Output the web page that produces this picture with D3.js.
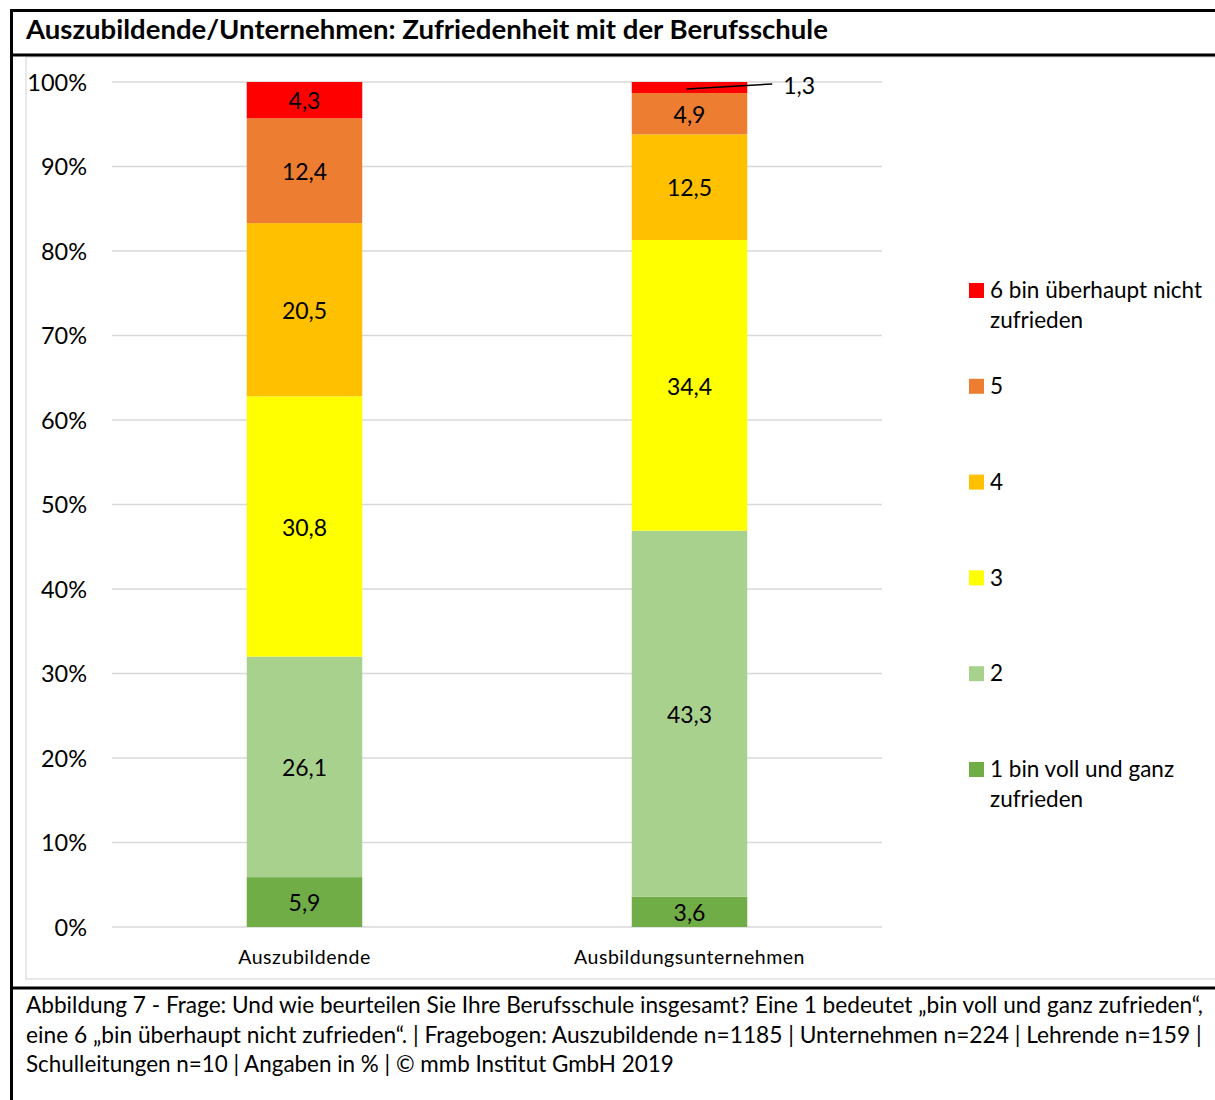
<!DOCTYPE html>
<html><head><meta charset="utf-8">
<script src="https://cdn.jsdelivr.net/npm/d3@7"></script>
<style>
html,body{margin:0;padding:0;background:#fff;}
svg{display:block;font-family:Lato,"Noto Sans",sans-serif;}
</style></head>
<body>
<svg id="chart" width="1215" height="1100"></svg>
<script>
const categories = ["Auszubildende", "Ausbildungsunternehmen"];
const seriesNames = ["1 bin voll und ganz zufrieden", "2", "3", "4", "5", "6 bin überhaupt nicht zufrieden"];
const seriesColors = ["#70AD47", "#A9D18E", "#FFFF00", "#FFC000", "#ED7D31", "#FF0000"];
const azubiValues = [5.9, 26.1, 30.8, 20.5, 12.4, 4.3];
const unternehmenValues = [3.6, 43.3, 34.4, 12.5, 4.9, 1.3];
const yTicks = [0, 10, 20, 30, 40, 50, 60, 70, 80, 90, 100];
const yTickLabels = ["0%", "10%", "20%", "30%", "40%", "50%", "60%", "70%", "80%", "90%", "100%"];
const titleText = "Auszubildende/Unternehmen: Zufriedenheit mit der Berufsschule";
const captionLines = [
  "Abbildung 7 - Frage: Und wie beurteilen Sie Ihre Berufsschule insgesamt? Eine 1 bedeutet \u201Ebin voll und ganz zufrieden\u201C,",
  "eine 6 \u201Ebin \u00FCberhaupt nicht zufrieden\u201C. | Fragebogen: Auszubildende n=1185 | Unternehmen n=224 | Lehrende n=159 |",
  "Schulleitungen n=10 | Angaben in % | \u00A9 mmb Institut GmbH 2019"
];

const svg = d3.select("#chart");

function fitWidth(sel, target) {
  const node = sel.node();
  const w = node.getComputedTextLength();
  const fs = parseFloat(sel.attr("font-size"));
  sel.attr("font-size", (fs * target / w).toFixed(2));
}

// frame
svg.append("rect").attr("x", 26).attr("y", 57).attr("width", 1200).attr("height", 922)
  .attr("fill", "#fff").attr("stroke", "#d9d9d9").attr("stroke-width", 1.2);
svg.append("line").attr("x1", 11).attr("x2", 1215).attr("y1", 10.5).attr("y2", 10.5).attr("stroke", "#000").attr("stroke-width", 3);
svg.append("line").attr("x1", 11).attr("x2", 1215).attr("y1", 55).attr("y2", 55).attr("stroke", "#000").attr("stroke-width", 3);
svg.append("line").attr("x1", 11).attr("x2", 1215).attr("y1", 988).attr("y2", 988).attr("stroke", "#000").attr("stroke-width", 3);
svg.append("line").attr("x1", 11.5).attr("x2", 11.5).attr("y1", 9).attr("y2", 1100).attr("stroke", "#000").attr("stroke-width", 3);

// title
const title = svg.append("text").attr("x", 26).attr("y", 39).attr("font-size", 24).attr("font-weight", "bold")
  .attr("fill", "#000").text(titleText);
fitWidth(title, 802);

// scales
const x = d3.scaleBand().domain(categories).range([112, 882]).paddingInner(0.7).paddingOuter(0.35);
const y = d3.scaleLinear().domain([0, 100]).range([927, 82]);

// gridlines
svg.append("g").selectAll("line").data(yTicks).join("line")
  .attr("x1", 112).attr("x2", 882)
  .attr("y1", d => y(d)).attr("y2", d => y(d))
  .attr("stroke", "#d9d9d9").attr("stroke-width", 1.3);

// y axis labels
const yAxis = d3.axisLeft(y).tickValues(yTicks).tickFormat((d, i) => yTickLabels[i]).tickSize(0).tickPadding(0);
const yg = svg.append("g").attr("transform", "translate(87,0)").call(yAxis);
yg.select(".domain").remove();
yg.selectAll("text").attr("font-size", 23.5).attr("font-family", "Lato, 'Noto Sans', sans-serif").attr("fill", "#000").attr("dy", "0.34em");

// x axis labels
const xAxis = d3.axisBottom(x).tickSize(0).tickPadding(0);
const xg = svg.append("g").attr("transform", "translate(0,950)").call(xAxis);
xg.select(".domain").remove();
xg.selectAll("text").attr("font-size", 19.5).attr("font-family", "Lato, 'Noto Sans', sans-serif").attr("fill", "#000").attr("dy", "0.7em").attr("letter-spacing", 0.55);

// stack
const rows = categories.map((c, i) => {
  const o = { cat: c };
  const vals = i === 0 ? azubiValues : unternehmenValues;
  seriesNames.forEach((s, j) => o[s] = vals[j]);
  return o;
});
const stack = d3.stack().keys(seriesNames)(rows);

const segs = svg.append("g");
stack.forEach((layer, j) => {
  segs.selectAll(null).data(layer).join("rect")
    .attr("x", d => x(d.data.cat))
    .attr("width", x.bandwidth())
    .attr("y", d => y(d[1]))
    .attr("height", d => y(d[0]) - y(d[1]))
    .attr("fill", seriesColors[j]);
});

// data labels
const labels = svg.append("g").attr("font-size", 23).attr("fill", "#000").attr("text-anchor", "middle");
const fmt = v => String(v).replace(".", ",");
stack.forEach((layer, j) => {
  layer.forEach(d => {
    const v = d[1] - d[0];
    const cx = x(d.data.cat) + x.bandwidth() / 2;
    const cy = (y(d[0]) + y(d[1])) / 2;
    if (y(d[0]) - y(d[1]) < 16) {
      const lx = x(d.data.cat) + x.bandwidth() + 25;
      svg.append("line").attr("x1", cx - 3).attr("y1", cy + 1.5).attr("x2", lx).attr("y2", cy - 3.5)
        .attr("stroke", "#000").attr("stroke-width", 1.5);
      labels.append("text").attr("x", lx + 11).attr("y", cy - 2).attr("dy", "0.35em")
        .attr("text-anchor", "start").text(fmt(Math.round(v * 10) / 10));
    } else {
      labels.append("text").attr("x", cx).attr("y", cy + 1).attr("dy", "0.36em")
        .text(fmt(Math.round(v * 10) / 10));
    }
  });
});

// legend
const legendOrder = seriesNames.map((s, i) => i).reverse();
const ly = d3.scalePoint().domain(legendOrder).range([290, 769]);
const lg = svg.append("g");
legendOrder.forEach(i => {
  const yy = ly(i);
  lg.append("rect").attr("x", 969).attr("y", yy - 7).attr("width", 15).attr("height", 15).attr("fill", seriesColors[i]);
  const words = seriesNames[i].split(" ");
  const t = lg.append("text").attr("x", 990).attr("y", yy).attr("dy", "0.36em").attr("font-size", 22.5).attr("fill", "#000");
  let line = [], ts = t.append("tspan").attr("x", 990), lineNo = 0;
  words.forEach(w => {
    line.push(w);
    ts.text(line.join(" "));
    if (ts.node().getComputedTextLength() > 222 && line.length > 1) {
      line.pop();
      ts.text(line.join(" "));
      line = [w];
      lineNo++;
      ts = t.append("tspan").attr("x", 990).attr("dy", "30").text(w);
    }
  });
});

// caption
const capWidths = [1177, 1176, 648];
captionLines.forEach((l, i) => {
  const t = svg.append("text").attr("x", 26).attr("y", 1005 + i * 29.5).attr("dy", "0.36em")
    .attr("font-size", 20).attr("fill", "#000").text(l);
  fitWidth(t, capWidths[i]);
});
</script>
</body></html>
